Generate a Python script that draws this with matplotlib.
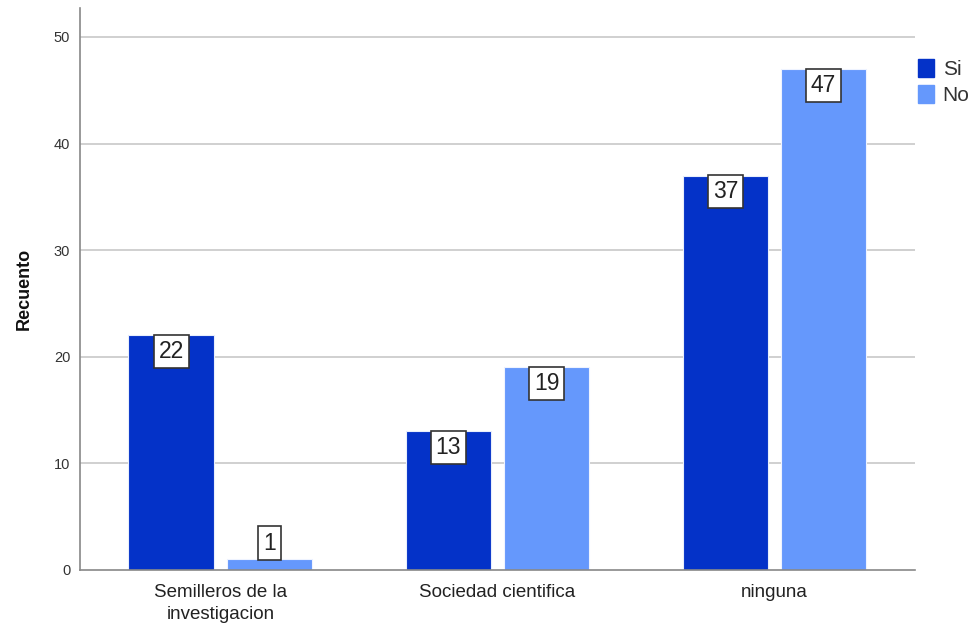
import numpy as np
import matplotlib.pyplot as plt
import matplotlib.patches as mpatches

plt.rcParams['font.family'] = ['Liberation Sans', 'DejaVu Sans']

categories = ["Semilleros de la\ninvestigacion", "Sociedad cientifica", "ninguna"]
si_vals = [22, 13, 37]
no_vals = [1, 19, 47]
series_names = ["Si", "No"]
yticks = [0, 10, 20, 30, 40, 50]

c_si = "#0432c8"
c_no = "#6598fc"

fig = plt.figure(figsize=(9.77, 6.28), dpi=100)
ax = fig.add_axes([0.0819, 0.0924, 0.8546, 0.8946])

x = np.arange(len(categories))
off = 0.177
w = 0.31

ax.set_ylim(0, 52.7)
ax.set_xlim(-0.507, 2.507)

for yt in yticks[1:]:
    ax.axhline(yt, color="#c8c8c8", linewidth=1.2, zorder=0)

b1 = ax.bar(x - off, si_vals, w, color=c_si, edgecolor="#e8eefc", linewidth=0.8, zorder=2)
b2 = ax.bar(x + off, no_vals, w, color=c_no, edgecolor="#eef3ff", linewidth=0.8, zorder=2)

for bars in (b1, b2):
    for rect in bars:
        h = rect.get_height()
        cx = rect.get_x() + rect.get_width() / 2
        if h > 4:
            y, va = h - 0.45, "top"
        else:
            y, va = h + 0.45, "bottom"
        ax.text(cx, y, f"{int(h)}", ha="center", va=va, fontsize=16.5, color="#222222",
                zorder=4,
                bbox=dict(boxstyle="square,pad=0.22", facecolor="white",
                          edgecolor="#333333", linewidth=1.2))

ax.set_yticks(yticks)
ax.set_yticklabels([str(v) for v in yticks], fontsize=10.5, color="#333333")
ax.set_xticks(x)
ax.set_xticklabels(categories, fontsize=13.5, color="#222222", linespacing=1.38)
ax.tick_params(axis="x", length=0, pad=10)
ax.tick_params(axis="y", length=0, pad=7)

for s in ["top", "right"]:
    ax.spines[s].set_visible(False)
ax.spines["left"].set_color("#888888")
ax.spines["bottom"].set_color("#888888")
ax.spines["left"].set_linewidth(1.2)
ax.spines["bottom"].set_linewidth(1.2)

ax.set_ylabel("Recuento", fontsize=13, fontweight="bold", color="#111111", labelpad=15)

handles = [mpatches.Patch(color=c_si, label=series_names[0]),
           mpatches.Patch(color=c_no, label=series_names[1])]
fig.legend(handles=handles, loc="upper left", bbox_to_anchor=(0.935, 0.913),
           frameon=False, fontsize=15, handlelength=0.8, handleheight=0.95,
           handletextpad=0.4, labelspacing=0.3, borderpad=0.2, borderaxespad=0,
           labelcolor="#333333")

fig.savefig("out.png", dpi=100)
